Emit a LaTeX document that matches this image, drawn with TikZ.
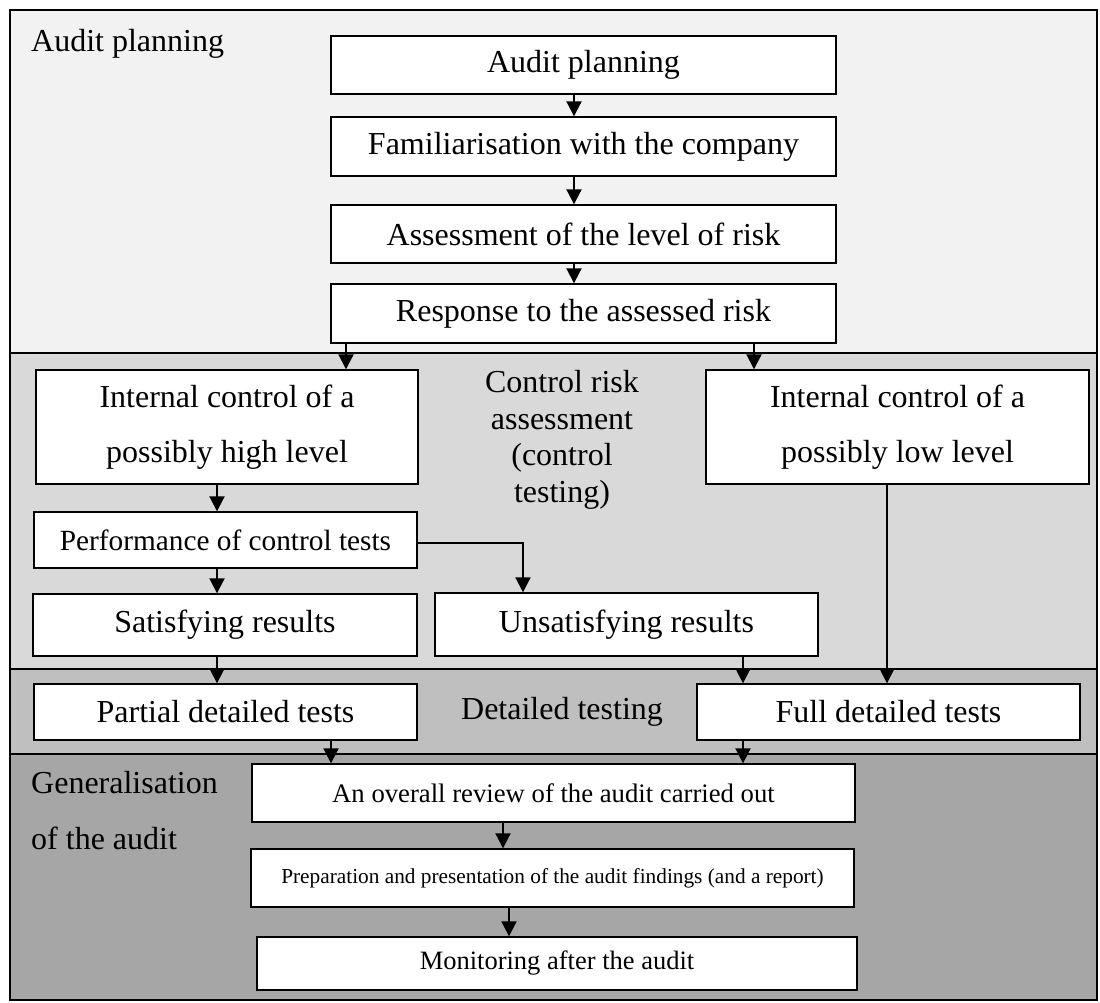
\documentclass[tikz,border=0pt]{standalone}
\usepackage{fontspec}
\setmainfont{Liberation Serif}
\usetikzlibrary{arrows.meta}
\definecolor{bandA}{HTML}{F2F2F2}
\definecolor{bandB}{HTML}{D9D9D9}
\definecolor{bandC}{HTML}{BFBFBF}
\definecolor{bandD}{HTML}{A6A6A6}
\begin{document}
\begin{tikzpicture}[x=1pt,y=-1pt,
  box/.style={draw=black, fill=white, line width=1.4pt, inner sep=0pt, align=center,
    font=\fontsize{32}{55}\selectfont},
  arr/.style={line width=2pt, -{Triangle[length=15pt,width=15pt]}},
  plain/.style={line width=2pt},
  lab/.style={inner sep=0pt, font=\fontsize{32}{38}\selectfont}
]
\useasboundingbox (0,0) rectangle (1100,1003);
% bands
\fill[bandA] (10,10) rectangle (1097,353);
\fill[bandB] (10,353) rectangle (1097,669);
\fill[bandC] (10,669) rectangle (1097,754);
\fill[bandD] (10,754) rectangle (1097,1000);
\draw[plain] (10,353) -- (1097,353);
\draw[plain] (10,669) -- (1097,669);
\draw[plain] (10,754) -- (1097,754);
\draw[plain] (10,10) rectangle (1097,1000);

% band labels
\node[lab, anchor=base west] (l1) at (31,52) {Audit planning};
\node[lab, anchor=base] (l2a) at (562,392) {Control risk};
\node[lab, anchor=base] (l2b) at (562,429) {assessment};
\node[lab, anchor=base] (l2c) at (562,465) {(control};
\node[lab, anchor=base] (l2d) at (562,502) {testing)};
\node[lab, anchor=base] (l3) at (562,719) {Detailed testing};
\node[lab, anchor=base west] (l4a) at (31,793) {Generalisation};
\node[lab, anchor=base west] (l4b) at (31,849) {of the audit};

% boxes
\node[box, minimum width=505pt, minimum height=58pt] (ap) at (583.5,65) {Audit planning};
\node[box, minimum width=505pt, minimum height=59pt] (fam) at (583.5,146.5) {Familiarisation with the company};
\node[box, minimum width=505pt, minimum height=58pt] (ass) at (583.5,234) {Assessment of the level of risk};
\node[box, minimum width=505pt, minimum height=59pt] (resp) at (583.5,313.5) {Response to the assessed risk};

\node[box, minimum width=382pt, minimum height=114pt] (hi) at (227,427) {Internal control of a\\possibly high level};
\node[box, minimum width=383pt, minimum height=114pt] (lo) at (897.5,427) {Internal control of a\\possibly low level};
\node[box, minimum width=383pt, minimum height=56pt, font=\fontsize{29.3}{34}\selectfont] (perf) at (225.5,540) {Performance of control tests};
\node[box, minimum width=384pt, minimum height=62pt] (sat) at (225,625) {Satisfying results};
\node[box, minimum width=383pt, minimum height=63pt] (unsat) at (626.5,624.5) {Unsatisfying results};
\node[box, minimum width=383pt, minimum height=56pt] (part) at (225.5,712) {Partial detailed tests};
\node[box, minimum width=383pt, minimum height=56pt] (full) at (888.5,712) {Full detailed tests};
\node[box, minimum width=603pt, minimum height=58pt, font=\fontsize{26.7}{32}\selectfont] (rev) at (553.5,793) {An overall review of the audit carried out};
\node[box, minimum width=603pt, minimum height=58pt, font=\fontsize{21.3}{26}\selectfont] (prep) at (552.5,878) {Preparation and presentation of the audit findings (and a report)};
\node[box, minimum width=600pt, minimum height=53pt, font=\fontsize{26.5}{32}\selectfont] (mon) at (557,963.5) {Monitoring after the audit};

% connectors
\draw[arr] (ap.south -| 574,0) -- (fam.north -| 574,0);
\draw[arr] (fam.south -| 574,0) -- (ass.north -| 574,0);
\draw[arr] (ass.south -| 574,0) -- (resp.north -| 574,0);
\draw[arr] (resp.south -| 346,0) -- (hi.north -| 346,0);
\draw[arr] (resp.south -| 754,0) -- (lo.north -| 754,0);
\draw[arr] (hi.south -| 217,0) -- (perf.north -| 217,0);
\draw[arr] (perf.south -| 217,0) -- (sat.north -| 217,0);
\draw[arr] (perf.east |- 0,543) -| (unsat.north -| 523,0);
\draw[arr] (sat.south -| 217,0) -- (part.north -| 217,0);
\draw[arr] (unsat.south -| 743,0) -- (full.north -| 743,0);
\draw[arr] (lo.south -| 887,0) -- (full.north -| 887,0);
\draw[arr] (part.south -| 331,0) -- (rev.north -| 331,0);
\draw[arr] (full.south -| 743,0) -- (rev.north -| 743,0);
\draw[arr] (rev.south -| 503,0) -- (prep.north -| 503,0);
\draw[arr] (prep.south -| 509,0) -- (mon.north -| 509,0);
\end{tikzpicture}
\end{document}
